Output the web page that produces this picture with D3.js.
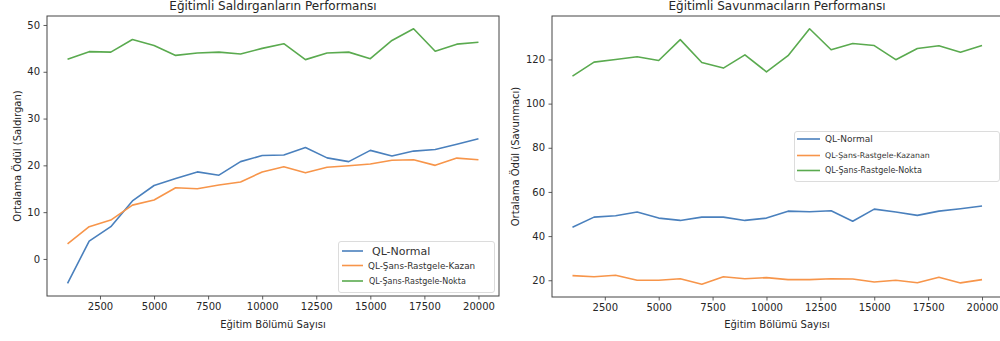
<!DOCTYPE html>
<html>
<head>
<meta charset="utf-8">
<script src="https://cdn.jsdelivr.net/npm/d3@7"></script>
<style>
  html, body { margin: 0; padding: 0; background: #fff; }
  svg { display: block; }
  text { font-family: "DejaVu Sans", sans-serif; fill: #262626; }
</style>
</head>
<body>
<svg id="chart" width="1000" height="341"></svg>
<script>
// Training episode counts
const episodes = [1000, 2000, 3000, 4000, 5000, 6000, 7000, 8000, 9000, 10000,
                  11000, 12000, 13000, 14000, 15000, 16000, 17000, 18000, 19000, 20000];

// Attacker average rewards
const attNormal = [-5.2, 3.8, 6.9, 12.4, 15.7, 17.2, 18.6, 17.9, 20.8, 22.1,
                   22.2, 23.8, 21.6, 20.8, 23.2, 22.0, 23.05, 23.4, 24.5, 25.7];
const attKazan  = [3.2, 6.9, 8.3, 11.5, 12.6, 15.2, 15.0, 15.8, 16.45, 18.6,
                   19.7, 18.4, 19.6, 19.9, 20.3, 21.1, 21.2, 20.0, 21.55, 21.2];
const attNokta  = [42.7, 44.3, 44.2, 46.9, 45.6, 43.5, 44.0, 44.2, 43.8, 45.0,
                   46.0, 42.6, 44.0, 44.2, 42.8, 46.7, 49.2, 44.4, 45.9, 46.3];

// Defender average rewards
const defNormal = [44.0, 48.6, 49.2, 50.9, 48.15, 47.1, 48.6, 48.6, 47.1, 48.15,
                   51.3, 51.0, 51.45, 46.7, 52.2, 50.9, 49.4, 51.3, 52.35, 53.6];
const defKazanan = [22.1, 21.6, 22.25, 20.0, 20.0, 20.7, 18.2, 21.6, 20.7, 21.2,
                    20.3, 20.3, 20.7, 20.55, 19.2, 20.0, 18.9, 21.35, 18.8, 20.3];
const defNokta  = [112.45, 118.8, 120.0, 121.2, 119.55, 129.0, 118.6, 116.1, 122.1, 114.4,
                   121.7, 133.9, 124.4, 127.2, 126.3, 119.9, 125.0, 126.2, 123.3, 126.3];

// Axis ticks
const xTicks = [2500, 5000, 7500, 10000, 12500, 15000, 17500, 20000];
const attYTicks = [0, 10, 20, 30, 40, 50];
const defYTicks = [20, 40, 60, 80, 100, 120];

// Series labels
const attLabels = ["QL-Normal", "QL-Şans-Rastgele-Kazan", "QL-Şans-Rastgele-Nokta"];
const defLabels = ["QL-Normal", "QL-Şans-Rastgele-Kazanan", "QL-Şans-Rastgele-Nokta"];
const colors = ["#4a80bd", "#f7954a", "#5aaa4f"];

const svg = d3.select("#chart");

// Matplotlib-style 5% margin around the data extent
function padded(ext) {
  const m = (ext[1] - ext[0]) * 0.05;
  return [ext[0] - m, ext[1] + m];
}

function panel(opts) {
  const { box, series, yTicks, title, yLabel, legend } = opts;
  const g = svg.append("g");

  const x = d3.scaleLinear().domain(padded(d3.extent(episodes))).range([box.left, box.right]);
  const all = series.flat();
  const y = d3.scaleLinear().domain(padded(d3.extent(all))).range([box.bottom, box.top]);

  // clip lines to the axes area
  const clipId = "clip" + Math.round(box.left);
  g.append("clipPath").attr("id", clipId)
    .append("rect").attr("x", box.left).attr("y", box.top)
    .attr("width", box.right - box.left).attr("height", box.bottom - box.top);

  const line = d3.line().x((d, i) => x(episodes[i])).y(d => y(d));
  const lines = g.append("g").attr("clip-path", `url(#${clipId})`);
  series.forEach((s, k) => {
    lines.append("path").datum(s)
      .attr("d", line).attr("fill", "none")
      .attr("stroke", colors[k]).attr("stroke-width", 1.6)
      .attr("stroke-linejoin", "round").attr("stroke-linecap", "butt");
  });

  // axes
  const xAxis = d3.axisBottom(x).tickValues(xTicks).tickFormat(d3.format("d"))
    .tickSizeInner(3.5).tickSizeOuter(0).tickPadding(3.5);
  const gx = g.append("g").attr("transform", `translate(0,${box.bottom})`).call(xAxis);
  const yAxis = d3.axisLeft(y).tickValues(yTicks).tickFormat(d3.format("d"))
    .tickSizeInner(3.5).tickSizeOuter(0).tickPadding(3.5);
  const gy = g.append("g").attr("transform", `translate(${box.left},0)`).call(yAxis);
  [gx, gy].forEach(a => {
    a.select(".domain").remove();
    a.selectAll(".tick line").attr("stroke", "#333").attr("stroke-width", 0.8);
    a.selectAll(".tick text").style("font-size", "10px").style("fill", "#262626");
  });

  // spines
  g.append("rect").attr("x", box.left).attr("y", box.top)
    .attr("width", box.right - box.left).attr("height", box.bottom - box.top)
    .attr("fill", "none").attr("stroke", "#444").attr("stroke-width", 1);

  // title and axis labels
  const cx = (box.left + box.right) / 2;
  g.append("text").attr("x", opts.titleX || cx).attr("y", 9.5)
    .attr("text-anchor", "middle").style("font-size", "12px").text(title);
  g.append("text").attr("x", opts.titleX || cx).attr("y", 328)
    .attr("text-anchor", "middle").style("font-size", "10px").text("Eğitim Bölümü Sayısı");
  const cy = (box.top + box.bottom) / 2;
  g.append("text").attr("transform", `translate(${opts.yLabelX},${cy}) rotate(-90)`)
    .attr("text-anchor", "middle").style("font-size", "10px").text(yLabel);

  // legend
  const lg = g.append("g");
  lg.append("rect").attr("x", legend.x).attr("y", legend.y)
    .attr("width", legend.w).attr("height", legend.h).attr("rx", 2.5)
    .attr("fill", "#fff").attr("fill-opacity", 0.85)
    .attr("stroke", "#dcdcdc").attr("stroke-width", 1);
  legend.rows.forEach((r, k) => {
    lg.append("line").attr("x1", legend.hx1).attr("x2", legend.hx2)
      .attr("y1", r.y).attr("y2", r.y)
      .attr("stroke", colors[k]).attr("stroke-width", 1.6);
    lg.append("text").attr("x", r.tx).attr("y", r.y).attr("dy", "0.35em")
      .style("font-size", r.fs + "px").style("fill", "#333").text(opts.labels[k]);
  });
}

panel({
  box: { left: 47, right: 499, top: 16, bottom: 296 },
  series: [attNormal, attKazan, attNokta],
  yTicks: attYTicks,
  title: "Eğitimli Saldırganların Performansı",
  titleX: 273,
  yLabel: "Ortalama Ödül (Saldırgan)",
  yLabelX: 20.5,
  labels: attLabels,
  legend: { x: 338.5, y: 241.5, w: 156, h: 51, hx1: 342, hx2: 363,
    rows: [{ y: 251, tx: 372, fs: 11 }, { y: 265.5, tx: 368, fs: 8.8 }, { y: 281, tx: 369, fs: 8 }] }
});

panel({
  box: { left: 552, right: 1002.5, top: 16, bottom: 297 },
  series: [defNormal, defKazanan, defNokta],
  yTicks: defYTicks,
  title: "Eğitimli Savunmacıların Performansı",
  titleX: 777,
  yLabel: "Ortalama Ödül (Savunmacı)",
  yLabelX: 518.5,
  labels: defLabels,
  legend: { x: 794.5, y: 131.5, w: 205, h: 50, hx1: 797, hx2: 820,
    rows: [{ y: 139, tx: 825, fs: 9 }, { y: 155.5, tx: 825, fs: 7.8 }, { y: 170.5, tx: 825, fs: 8 }] }
});
</script>
</body>
</html>
